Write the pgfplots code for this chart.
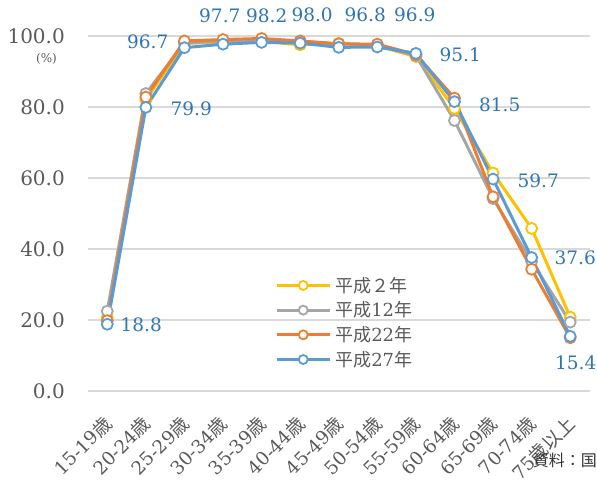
\documentclass[border=0pt]{standalone}
\usepackage{fontspec}
\setmainfont{DejaVu Serif}
\newfontfamily\jp{Noto Sans CJK JP}
\usepackage{pgfplots}
\pgfplotsset{compat=1.18}
\definecolor{cyellow}{HTML}{FFC000}
\definecolor{cgray}{HTML}{A5A5A5}
\definecolor{corange}{HTML}{ED7D31}
\definecolor{cblue}{HTML}{5B9BD5}
\definecolor{labblue}{HTML}{2F75B5}
\definecolor{txtgray}{HTML}{595959}
\definecolor{gridgray}{HTML}{D9D9D9}
\newcommand{\sai}{{\jp 歳}}
\begin{document}
\begin{tikzpicture}
\useasboundingbox (-88bp,-106bp) rectangle (509bp,391bp);
\begin{axis}[
  at={(0,0)}, anchor=south west,
  scale only axis, width=501.5bp, height=355bp,
  xmin=-0.5, xmax=12.5, ymin=0, ymax=100,
  clip=false,
  axis line style={draw=none},
  tick style={draw=none},
  ymajorgrids, major grid style={draw=gridgray, line width=1.2bp},
  ytick={0,20,40,60,80,100},
  /pgf/number format/assume math mode=true,
  yticklabel={\pgfmathprintnumber[fixed,precision=1,zerofill]{\tick}},
  yticklabel style={font=\fontsize{20bp}{23bp}\selectfont, text=txtgray, anchor=east, inner sep=0pt, xshift=-23bp},
  xtick={0,...,12},
  xticklabels={15-19\sai,20-24\sai,25-29\sai,30-34\sai,35-39\sai,40-44\sai,45-49\sai,50-54\sai,55-59\sai,60-64\sai,65-69\sai,70-74\sai,75{\jp 歳以上}},
  xticklabel style={font=\fontsize{18.5bp}{21bp}\selectfont, text=txtgray, inner sep=0pt, xshift=-5bp, yshift=-23bp, rotate=45, anchor=north east},
  every axis plot/.append style={line width=3bp, mark=*, mark size=5.5bp, mark options={fill=white, line width=1.8bp}},
  legend cell align=left,
  legend style={at={(0.373,0.327)}, anchor=north west, draw=none, fill=none, inner sep=0pt,
    column sep=2bp, row sep=4bp,
    nodes={inner sep=2bp, text=txtgray, font=\fontsize{18bp}{21bp}\selectfont}},
  legend image code/.code={\draw[mark repeat=2,mark phase=2,mark size=4.5bp,#1] plot coordinates {(0bp,0bp) (26.5bp,0bp) (53bp,0bp)};},
]
% 平成2年
\addplot[color=cyellow] coordinates {(0,20.8) (1,82.0) (2,97.9) (3,98.3) (4,98.5) (5,97.5) (6,97.9) (7,97.2) (8,94.2) (9,79.6) (10,61.4) (11,45.8) (12,20.8)};
\addlegendentry{\jp 平成２年}
% 平成12年
\addplot[color=cgray] coordinates {(0,22.5) (1,83.8) (2,98.0) (3,98.6) (4,98.9) (5,98.5) (6,97.8) (7,97.4) (8,94.5) (9,76.2) (10,54.2) (11,36.5) (12,19.4)};
\addlegendentry{{\jp 平成}12{\jp 年}}
% 平成22年
\addplot[color=corange] coordinates {(0,19.8) (1,82.8) (2,98.6) (3,99.0) (4,99.3) (5,98.6) (6,97.8) (7,97.7) (8,94.8) (9,82.5) (10,54.7) (11,34.3) (12,15.0)};
\addlegendentry{{\jp 平成}22{\jp 年}}
% 平成27年
\addplot[color=cblue] coordinates {(0,18.8) (1,79.9) (2,96.7) (3,97.7) (4,98.2) (5,98.0) (6,96.8) (7,96.9) (8,95.1) (9,81.5) (10,59.7) (11,37.6) (12,15.4)};
\addlegendentry{{\jp 平成}27{\jp 年}}
% data labels for 平成27年
\addplot[draw=none, no markers, forget plot, point meta=y,
  visualization depends on={\thisrow{dx} \as \ldx},
  visualization depends on={\thisrow{dy} \as \ldy},
  nodes near coords={\pgfmathprintnumber[fixed,precision=1,zerofill]{\pgfplotspointmeta}},
  every node near coord/.style={font=\fontsize{18.5bp}{22bp}\selectfont, text=labblue, inner sep=0pt, anchor=center, xshift=\ldx bp, yshift=\ldy bp}]
  table {
x  y    dx    dy
0  18.8 34.0  -0.7
1  79.9 45.4  -1.1
2  96.7 -36.7 6.0
3  97.7 -3.2  28.7
4  98.2 5.2   27.0
5  98.0 12.0  28.0
6  96.8 26.5  32.4
7  96.9 37.5  32.0
8  95.1 44.4  -1.6
9  81.5 45.3  -2.8
10 59.7 45.2  -1.4
11 37.6 43.6  -0.5
12 15.4 5.5   -26.7
};
\end{axis}
\node[font=\fontsize{12bp}{14bp}\selectfont, text=txtgray] at (-41.5bp,332bp) {(\%)};
\node[font=\fontsize{16bp}{18bp}\jp\selectfont, text=black!80, anchor=east, inner sep=0pt] at (509bp,-69bp) {資料：国};
\end{tikzpicture}
\end{document}
